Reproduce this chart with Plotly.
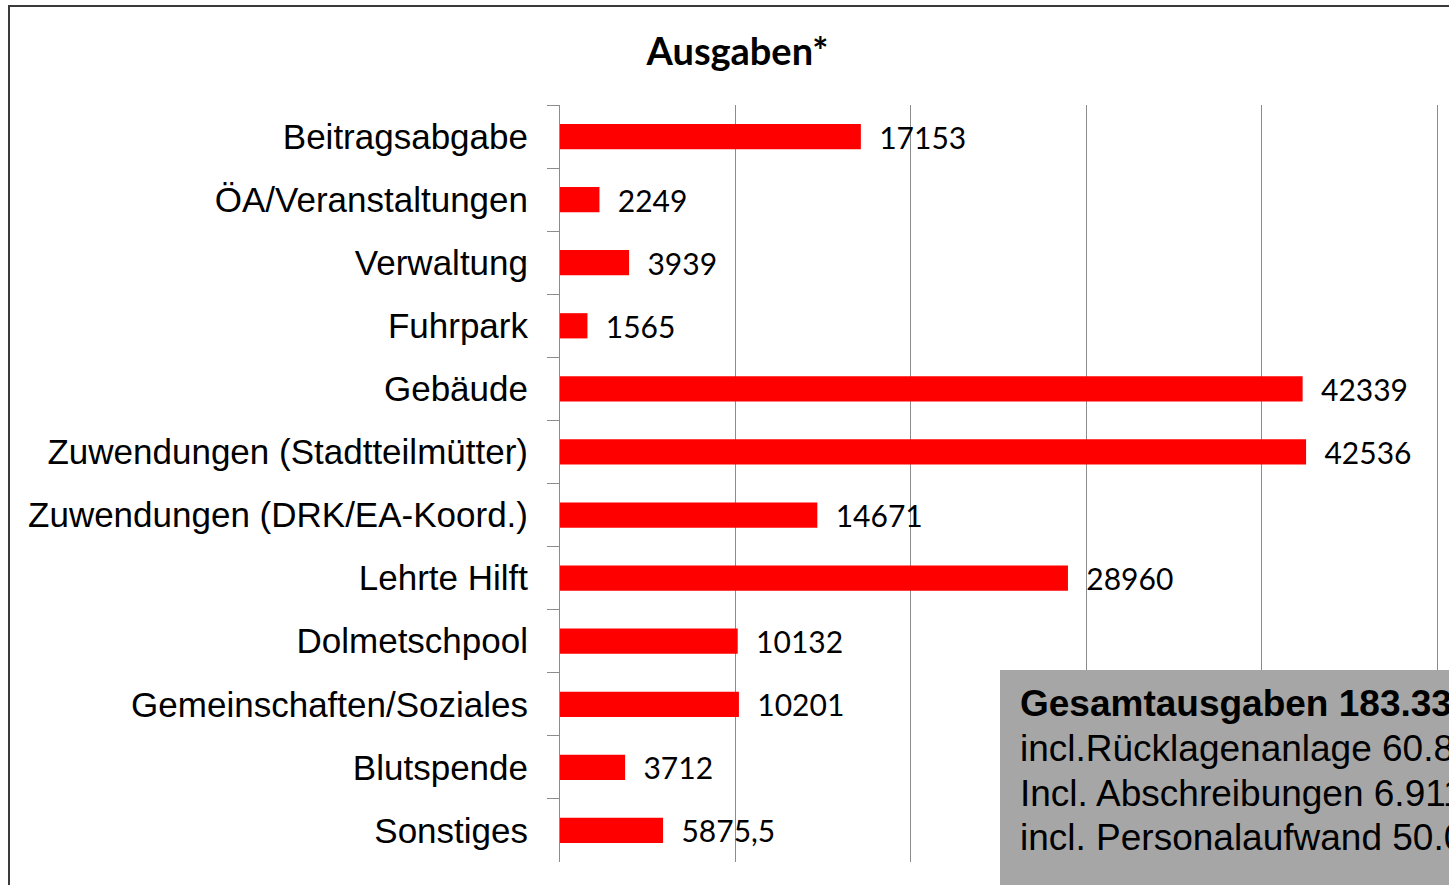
import plotly.graph_objects as go

categories = [
    "Beitragsabgabe",
    "ÖA/Veranstaltungen",
    "Verwaltung",
    "Fuhrpark",
    "Gebäude",
    "Zuwendungen (Stadtteilmütter)",
    "Zuwendungen (DRK/EA-Koord.)",
    "Lehrte Hilft",
    "Dolmetschpool",
    "Gemeinschaften/Soziales",
    "Blutspende",
    "Sonstiges",
]
values = [17153, 2249, 3939, 1565, 42339, 42536, 14671, 28960, 10132, 10201, 3712, 5875.5]
value_labels = ["\u00a0\u00a0" + f"{v:g}".replace(".", ",") for v in values]

box_lines = [
    "<b>Gesamtausgaben 183.332,50 €</b>",
    "incl.Rücklagenanlage 60.800 €",
    "Incl. Abschreibungen 6.911 €",
    "incl. Personalaufwand 50.000 €",
]

W, H = 1449, 885
PX0, PX1, PY0, PY1 = 560, 1449, 105, 862  # plot area in pixels


def px(x):
    return (x - PX0) / (PX1 - PX0)


def py(y):
    return (PY1 - y) / (PY1 - PY0)


fig = go.Figure(
    go.Bar(
        x=values, y=categories, orientation="h",
        marker=dict(color="#ff0000", line=dict(width=0)),
        text=value_labels, textposition="outside", cliponaxis=False,
        constraintext="none",
        textfont=dict(family="Lato", size=30, color="black"),
    )
)

x_max = (PX1 - PX0) / 175.4 * 10000
fig.update_xaxes(
    range=[0, x_max], dtick=10000, showgrid=True, gridcolor="#8c8c8c",
    gridwidth=1, showticklabels=False, zeroline=False, showline=False,
)
fig.update_yaxes(
    autorange="reversed", showline=True, linecolor="#8c8c8c", linewidth=1,
    ticks="outside", tickson="boundaries", ticklen=12, tickcolor="#8c8c8c",
    ticklabelstandoff=24,
    tickfont=dict(family="Liberation Sans", size=35, color="black"),
    showgrid=False,
)

# outer chart frame
fig.add_shape(type="rect", xref="paper", yref="paper",
              x0=px(9), x1=px(1600), y0=py(1000), y1=py(6),
              line=dict(color="#3a3a3a", width=2), fillcolor="rgba(0,0,0,0)")

# grey summary box (cut off by the right edge, as in the original)
fig.add_shape(type="rect", xref="paper", yref="paper",
              x0=px(1000), x1=px(1600), y0=py(1000), y1=py(670),
              line=dict(width=0), fillcolor="#a6a6a6", layer="above")
for text, yc in zip(box_lines, [703, 748, 793, 837]):
    fig.add_annotation(
        text=text, xref="paper", yref="paper", x=px(1018), y=py(yc),
        xanchor="left", yanchor="middle", showarrow=False,
        font=dict(family="Liberation Sans", size=37, color="black"),
    )

fig.update_layout(
    width=W, height=H,
    title=dict(text="<b>Ausgaben*</b>", x=737.5 / W, xanchor="center",
               y=1 - 52 / H, yanchor="middle",
               font=dict(family="Lato", size=38, color="black")),
    margin=dict(l=PX0, r=W - PX1, t=PY0, b=H - PY1, autoexpand=False),
    bargap=0.6, showlegend=False,
    paper_bgcolor="white", plot_bgcolor="white",
)

fig.write_html("out.html", config={"displayModeBar": False},
               post_script="document.body.style.margin='0';")
